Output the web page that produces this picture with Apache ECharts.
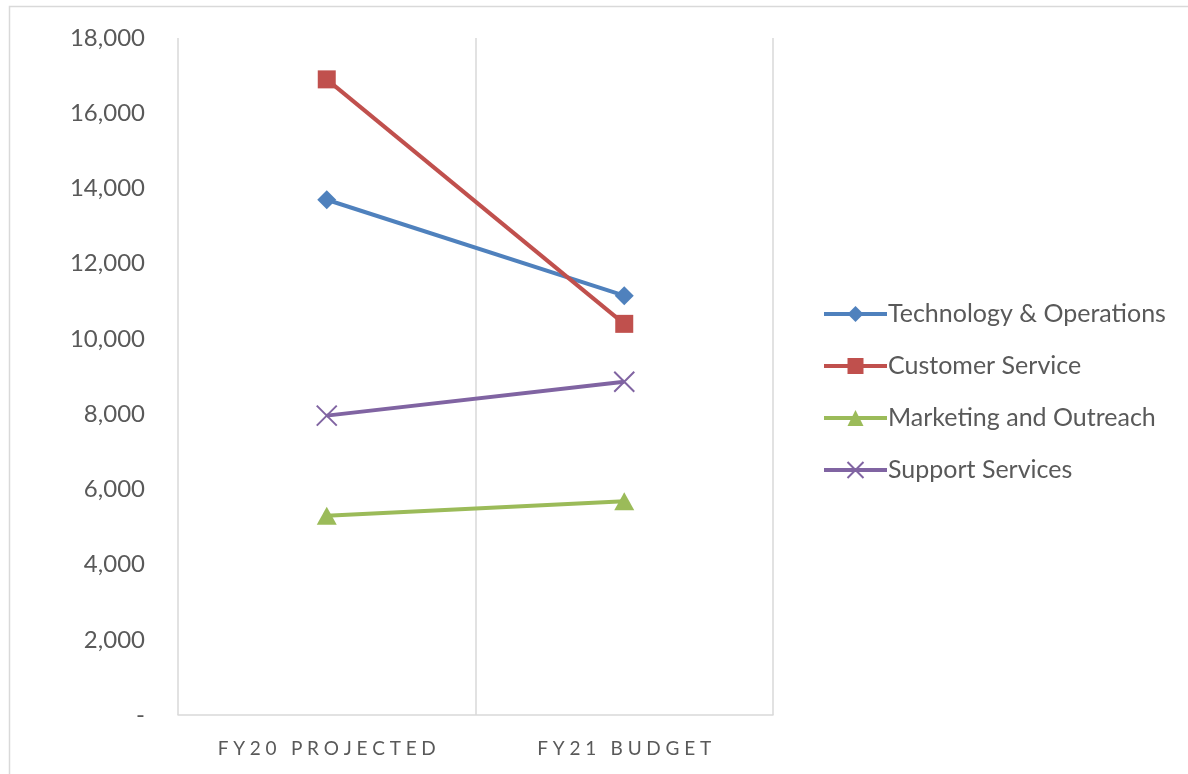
<!DOCTYPE html>
<html>
<head>
<meta charset="utf-8">
<script src="https://cdn.jsdelivr.net/npm/echarts@6/dist/echarts.min.js"></script>
<style>
  html, body { margin: 0; padding: 0; background: #fff; }
  #chart { width: 1188px; height: 774px; }
</style>
</head>
<body>
<div id="chart"></div>
<script>
// categories and values
const categories = ['FY20 PROJECTED', 'FY21 BUDGET'];
const techOps = [13700, 11150];
const customerService = [16900, 10400];
const marketing = [5300, 5680];
const supportServices = [7960, 8860];
const yTicks = { min: 0, max: 18000, interval: 2000 };

const chart = echarts.init(document.getElementById('chart'));
const font = 'Lato, "Open Sans", sans-serif';

// spread letters like the Excel axis labels
function spaced(s) {
  return s.split('').join('\u2009\u2009');
}

function lineSeries(name, data, color, symbol, symbolSize, extraItem) {
  return {
    name: name,
    type: 'line',
    data: data,
    symbol: symbol,
    symbolSize: symbolSize,
    showSymbol: true,
    lineStyle: { color: color, width: 4 },
    itemStyle: Object.assign({ color: color }, extraItem || {}),
    emphasis: { disabled: true },
    z: 3
  };
}

chart.setOption({
  animation: false,
  graphic: [{
    type: 'rect',
    shape: { x: 9.5, y: 6.5, width: 1300, height: 900 },
    style: { fill: 'none', stroke: '#d9d9d9', lineWidth: 1.5 },
    silent: true
  }],
  grid: { left: 178, right: 415, top: 38, bottom: 59 },
  legend: {
    orient: 'vertical',
    left: 817,
    top: 296,
    itemWidth: 63,
    itemHeight: 20,
    itemGap: 26,
    lineStyle: { width: 4 },
    textStyle: { fontFamily: font, fontSize: 25, lineHeight: 26, color: '#595959', padding: [0, 0, 0, -4] },
    data: ['Technology & Operations', 'Customer Service', 'Marketing and Outreach', 'Support Services']
  },
  xAxis: {
    type: 'category',
    data: categories,
    boundaryGap: true,
    axisLine: { show: true, lineStyle: { color: '#d9d9d9', width: 1.5 } },
    axisTick: { show: false },
    splitLine: { show: true, lineStyle: { color: '#d9d9d9', width: 1.5 } },
    axisLabel: {
      margin: 24,
      fontFamily: font,
      fontSize: 19,
      color: '#595959',
      formatter: spaced
    }
  },
  yAxis: {
    type: 'value',
    min: yTicks.min,
    max: yTicks.max,
    interval: yTicks.interval,
    axisLine: { show: false },
    axisTick: { show: false },
    splitLine: { show: false },
    axisLabel: {
      margin: 33,
      fontFamily: font,
      fontSize: 24,
      color: '#595959',
      formatter: function (v) {
        return v === 0 ? '-' : v.toLocaleString('en-US');
      }
    }
  },
  series: [
    lineSeries('Technology & Operations', techOps, '#4f81bd', 'path://M5,0L10,5L5,10L0,5Z', 19),
    lineSeries('Customer Service', customerService, '#c0504d', 'rect', 18),
    lineSeries('Marketing and Outreach', marketing, '#9bbb59', 'triangle', [20, 18]),
    lineSeries('Support Services', supportServices, '#8064a2', 'path://M0,0L10,10M10,0L0,10', 20,
      { borderColor: '#8064a2', borderWidth: 2 })
  ]
});
</script>
</body>
</html>
